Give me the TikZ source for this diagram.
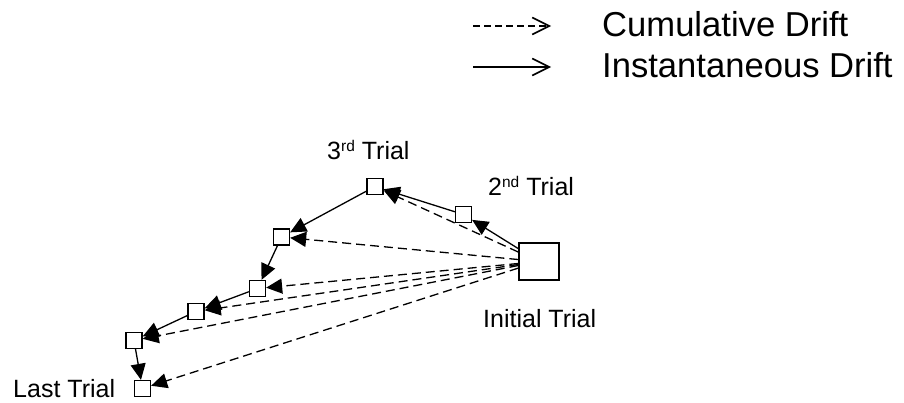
\documentclass[tikz,border=0pt]{standalone}
\usepackage{fontspec}
\setmainfont{Liberation Sans}
\usetikzlibrary{arrows.meta}
\newcommand{\supx}[1]{\raisebox{8pt}{\fontsize{15.5}{15.5}\selectfont #1}}
\begin{document}
\begin{tikzpicture}[x=1pt,y=-1pt,
  trialbox/.style={draw,line width=1.3pt,fill=white,minimum width=16pt,minimum height=16pt,inner sep=0pt},
  bigbox/.style={draw,line width=1.3pt,fill=white,minimum width=40pt,minimum height=37pt,inner sep=0pt},
  inst/.style={line width=1.3pt,-{Triangle[length=16pt,width=15pt]}},
  cumu/.style={line width=1.3pt,dash pattern=on 9pt off 5pt,-{Triangle[length=16pt,width=15pt]}},
  legsolid/.style={line width=1.3pt,-{Straight Barb[length=17pt,width=17pt,line width=1.6pt]}},
  legdash/.style={line width=1.3pt,dash pattern=on 7pt off 4pt,-{Straight Barb[length=17pt,width=17pt,line width=1.6pt]}},
  lab/.style={anchor=base west,inner sep=0pt,font=\fontsize{25}{25}\selectfont},
  leglab/.style={anchor=base west,inner sep=0pt,font=\fontsize{34.6}{34.6}\selectfont}]
\useasboundingbox (0,0) rectangle (904,403);

% legend
\coordinate (d1) at (473,26);
\coordinate (d2) at (551,26);
\coordinate (s1) at (473,67);
\coordinate (s2) at (551,67);
\draw[legdash] (d1) -- (d2);
\draw[legsolid] (s1) -- (s2);
\node[leglab] (lc) at (602,37) {Cumulative Drift};
\node[leglab] (li) at (602,78) {Instantaneous Drift};

% boxes
\node[bigbox] (init) at (539,261.5) {};
\node[trialbox] (t2) at (463.5,214.5) {};
\node[trialbox] (t3) at (375,186.5) {};
\node[trialbox] (t4) at (281.5,237) {};
\node[trialbox] (t5) at (257.5,288.5) {};
\node[trialbox] (t6) at (196,311.5) {};
\node[trialbox] (t7) at (134,340.5) {};
\node[trialbox] (tl) at (142.5,388.5) {};

% labels
\node[lab] (l3) at (327,160) {3\supx{rd} Trial};
\node[lab] (l2) at (488,196) {2\supx{nd} Trial};
\node[lab] (li0) at (483,327) {Initial Trial};
\node[lab] (ll) at (13,397) {Last Trial};

% instantaneous drift
\draw[inst] (init) -- (t2);
\draw[inst] (t2) -- (t3);
\draw[inst] (t3) -- (t4);
\draw[inst] (t4) -- (t5);
\draw[inst] (t5) -- (t6);
\draw[inst] (t6) -- (t7);
\draw[inst] (t7) -- (tl);

% cumulative drift
\draw[cumu] (init) -- (t3);
\draw[cumu] (init) -- (t4);
\draw[cumu] (init) -- (t5);
\draw[cumu] (init) -- (t6);
\draw[cumu] (init) -- (t7);
\draw[cumu] (init) -- (tl);
\end{tikzpicture}
\end{document}
